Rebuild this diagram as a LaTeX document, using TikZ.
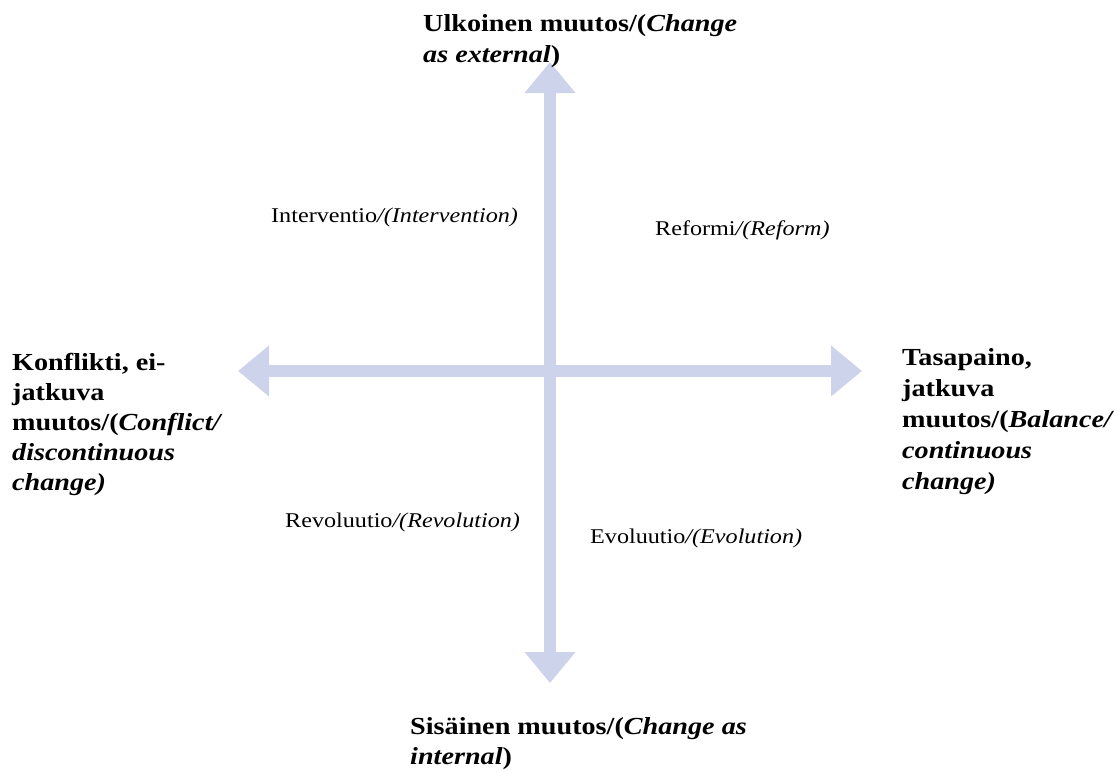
\documentclass[tikz,border=0pt]{standalone}
\usepackage{fontspec}
\setmainfont{Liberation Serif}[FakeStretch=1.15]
\usetikzlibrary{arrows.meta}
\definecolor{axiscol}{HTML}{CCD3EA}
\tikzset{
  axis/.style={draw=axiscol, line width=12pt,
    {Triangle[width=49pt,length=31pt]}-{Triangle[width=49pt,length=31pt]}},
  pole/.style={anchor=base west, inner sep=0pt, align=left},
  bigtxt/.style={font=\fontsize{24.5}{#1}\selectfont\bfseries},
  quad/.style={anchor=base west, inner sep=0pt,
    font=\fontsize{21}{24}\selectfont}
}
\begin{document}
\begin{tikzpicture}[x=1pt,y=-1pt]
\useasboundingbox (0,0) rectangle (1118,771);
\coordinate (top) at (550,62);
\coordinate (bot) at (550,683);
\coordinate (lft) at (238,371);
\coordinate (rgt) at (862,371);
\draw[axis] (lft) -- (rgt);
\draw[axis] (bot) -- (top);
% base anchor = baseline of the last line
\node[pole, bigtxt=31] (ext) at (423,62) {Ulkoinen muutos/(\textit{Change}\\\textit{as external})};
\node[pole, bigtxt=30] (int) at (410,764) {Sisäinen muutos/(\textit{Change as}\\\textit{internal})};
\node[pole, bigtxt=30] (con) at (12,490) {Konflikti, ei-\\jatkuva\\muutos/(\textit{Conflict/}\\\textit{discontinuous}\\\textit{change)}};
\node[pole, bigtxt=31] (bal) at (902,489) {Tasapaino,\\jatkuva\\muutos/(\textit{Balance/}\\\textit{continuous}\\\textit{change)}};
\node[quad] (itv) at (271,222) {Interventio\textit{/(Intervention)}};
\node[quad] (ref) at (655,235) {Reformi\textit{/(Reform)}};
\node[quad] (rev) at (285,527) {Revoluutio\textit{/(Revolution)}};
\node[quad] (evo) at (590,543) {Evoluutio\textit{/(Evolution)}};
\end{tikzpicture}
\end{document}
